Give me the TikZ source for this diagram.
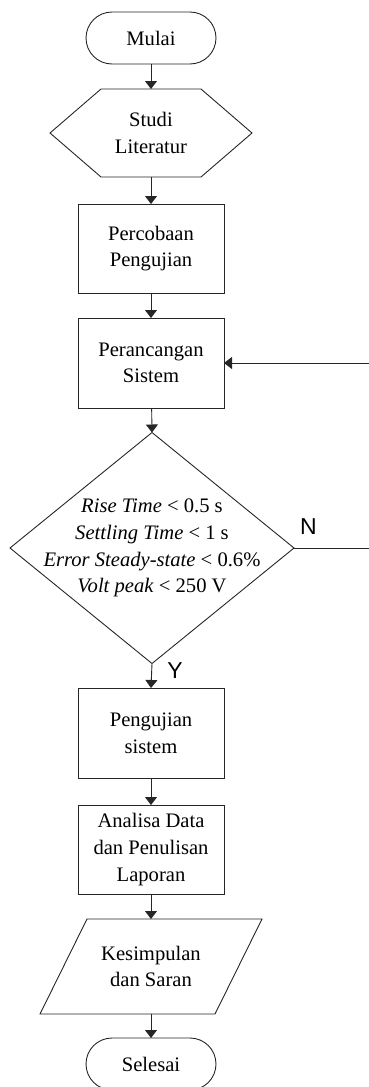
\documentclass[tikz,border=0pt]{standalone}
\usepackage{fontspec}
\setmainfont{Liberation Serif}
\newfontfamily\labelfont{Liberation Sans}
\usetikzlibrary{arrows.meta,shapes.geometric,calc}

\begin{document}
\begin{tikzpicture}[x=1pt,y=-1pt,
  every node/.style={font=\fontsize{20.6}{26.7}\selectfont, align=center, inner sep=0pt, outer sep=0pt},
  line/.style={draw=black!85, line width=0.9pt},
  arr/.style={line, -{Triangle[width=12pt,length=8pt]}},
  term/.style={line, rectangle, rounded corners=26pt, minimum width=130pt, minimum height=52pt},
  proc/.style={line, rectangle, minimum width=146pt, minimum height=89pt},
  yn/.style={font=\labelfont\fontsize{23}{23}\selectfont}
]
\useasboundingbox (0,0) rectangle (368,1087);

% start / end terminals
\node[term] (start) at (151,38) {Mulai};

% preparation (hexagon)
\node[minimum width=202pt, minimum height=88pt] (lit) at (151,133) {Studi\\Literatur};
\draw[line] (lit.west) -- ($(lit.north west)+(51,0)$) -- ($(lit.north east)+(-51,0)$)
  -- (lit.east) -- ($(lit.south east)+(-51,0)$) -- ($(lit.south west)+(51,0)$) -- cycle;

% process boxes
\node[proc] (coba) at (151,248.5) {Percobaan\\Pengujian};
\node[proc, minimum height=90pt] (ranc) at (151,363) {Perancangan\\Sistem};

% decision
\node[line, diamond, minimum width=284pt, minimum height=231pt] (dec) at (152,548) {};
\node at (dec.center) {\textit{Rise Time} < 0.5 s\\\textit{Settling Time} < 1 s\\\textit{Error Steady-state} < 0.6\%\\\textit{Volt peak} < 250 V};

\node[proc, minimum height=90pt] (uji) at (151,733) {Pengujian\\sistem};
\node[proc] (anal) at (151,849.5) {Analisa Data\\dan Penulisan\\Laporan};

% output (parallelogram)
\node[minimum width=222pt, minimum height=95pt] (kes) at (151,966.5) {Kesimpulan\\dan Saran};
\draw[line] ($(kes.north west)+(47,0)$) -- (kes.north east) -- ($(kes.south east)+(-47,0)$)
  -- (kes.south west) -- cycle;

\node[term] (end) at (151,1064) {Selesai};

% connectors
\draw[arr] (start) -- (lit);
\draw[arr] (lit) -- (coba);
\draw[arr] (coba) -- (ranc);
\draw[arr] (ranc) -- (dec.north);
\draw[arr] (dec.south) -- (uji.north);
\draw[arr] (uji) -- (anal);
\draw[arr] (anal) -- (kes);
\draw[arr] (kes) -- (end);

% feedback loop on "N"
\coordinate (loop) at (374,548);
\draw[arr] (dec.east) -- (loop) |- (ranc.east);

% branch labels
\node[yn] at (308.5,527) {N};
\node[yn] at (175,671) {Y};
\end{tikzpicture}
\end{document}
